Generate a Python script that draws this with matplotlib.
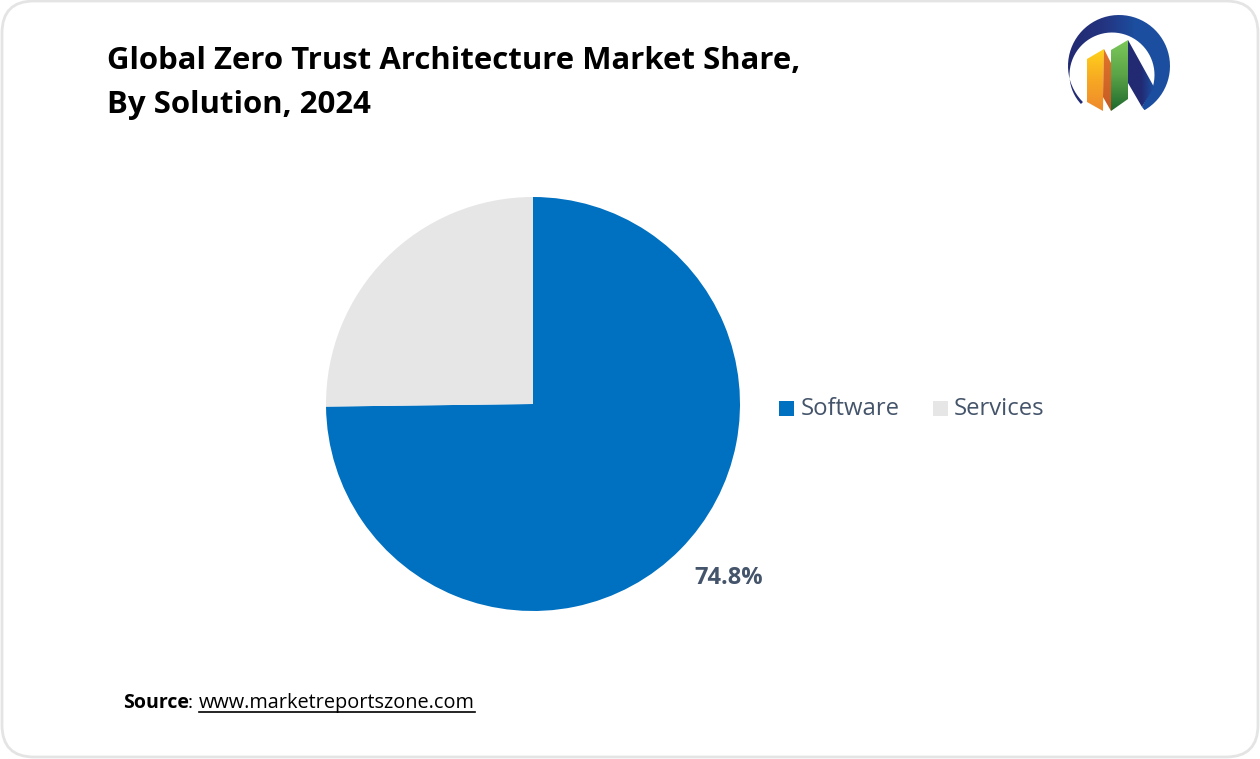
"""
Global Zero Trust Architecture market share pie, with card frame and logo.

Writes:
  out.png
"""

import matplotlib

matplotlib.use("Agg")
import matplotlib.pyplot as plt
import numpy as np
from matplotlib.colors import LinearSegmentedColormap
from matplotlib.patches import FancyBboxPatch, PathPatch, Rectangle
from matplotlib.path import Path

W, H = 1260, 759

TITLE_LINES = ["Global Zero Trust Architecture Market Share,", "By Solution, 2024"]
CATEGORIES = ["Software", "Services"]
SHARES = [74.8, 25.2]
COLORS = ["#0070C0", "#E7E6E6"]
VALUE_LABEL = "74.8%"
TEXT_BLUE = "#44546A"


def gradient_shape(ax, pts, colors, vertical=True):
    # Fill a logo shape with a gradient, clipped to the shape.
    pts = np.asarray(pts, dtype=float)
    pts = np.r_[pts, pts[:1]]
    cmap = LinearSegmentedColormap.from_list("g", colors)
    grad = np.linspace(0, 1, 64)
    grad = grad[:, None] if vertical else grad[None, :]
    x0, y0 = pts.min(axis=0)
    x1, y1 = pts.max(axis=0)
    im = ax.imshow(grad, extent=(x0, x1, y1, y0), cmap=cmap, aspect="auto", zorder=3,
                   interpolation="bilinear")
    patch = PathPatch(Path(pts), transform=ax.transData, facecolor="none", edgecolor="none")
    ax.add_patch(patch)
    im.set_clip_path(patch)


def draw_logo(ax):
    # Swoosh: outer circle minus a shifted inner circle, meeting in a tip.
    t_outer = np.radians(np.linspace(-225, 60, 120))
    outer = np.c_[1119 + 51 * np.cos(t_outer), 66 + 51 * np.sin(t_outer)]
    t_inner = np.radians(np.linspace(15, -223, 100))
    inner = np.c_[1112 + 42.5 * np.cos(t_inner), 75 + 42.5 * np.sin(t_inner)]
    gradient_shape(ax, np.r_[outer, [[1142, 107]], inner],
                   ["#222A72", "#24337F", "#1C4EA0", "#1C4EA0"], vertical=False)
    # Dark stroke running down into the ring.
    gradient_shape(ax, [(1128, 40), (1154, 87), (1142, 107), (1128, 83)],
                   ["#222A72", "#222A72", "#1C4EA0"], vertical=False)
    # Bars.
    gradient_shape(ax, [(1087, 59), (1104, 49), (1103, 111), (1087, 102)],
                   ["#FFD21A", "#F7A823", "#EE8A2D"])
    gradient_shape(ax, [(1104, 49), (1111, 63), (1111, 111), (1103, 97)],
                   ["#E0752A", "#C65A25"])
    gradient_shape(ax, [(1111, 50), (1128, 40), (1128, 99), (1111, 111)],
                   ["#7CC85A", "#5BA347", "#1E6A2E"])


def main():
    plt.rcParams["font.family"] = ["Open Sans", "DejaVu Sans"]

    fig = plt.figure(figsize=(W / 100, H / 100), dpi=100, facecolor="white")

    # Background axes in pixel coordinates, y down like the image.
    bg = fig.add_axes([0, 0, 1, 1])
    bg.set_xlim(0, W)
    bg.set_ylim(H, 0)
    bg.axis("off")

    card = FancyBboxPatch((2, 1), W - 4, H - 3, boxstyle="round,pad=0,rounding_size=32",
                          facecolor="white", edgecolor="#E4E4E4", linewidth=2)
    bg.add_patch(card)

    for line, y in zip(TITLE_LINES, [69, 113]):
        bg.text(107, y, line, fontsize=22.4, fontweight="bold", color="black", va="baseline", ha="left")

    draw_logo(bg)
    bg.set_xlim(0, W)
    bg.set_ylim(H, 0)

    # Pie, centre (533, 404), radius 207 px.
    cx, cy, r = 533, 404, 207
    pie_ax = fig.add_axes([(cx - r) / W, 1 - (cy + r) / H, 2 * r / W, 2 * r / H])
    pie_ax.pie(SHARES, colors=COLORS, startangle=90, counterclock=False, radius=1,
               wedgeprops={"linewidth": 0})
    pie_ax.set_xlim(-1, 1)
    pie_ax.set_ylim(-1, 1)

    bg.text(694, 584, VALUE_LABEL, fontsize=17, fontweight="bold", color=TEXT_BLUE, ha="left", va="baseline")

    # Legend.
    bg.add_patch(Rectangle((779, 401), 15, 15, facecolor=COLORS[0], edgecolor="none"))
    bg.text(801, 415, CATEGORIES[0], fontsize=17.2, color=TEXT_BLUE, va="baseline", ha="left")
    bg.add_patch(Rectangle((933, 401), 15, 15, facecolor=COLORS[1], edgecolor="none"))
    bg.text(954, 415, CATEGORIES[1], fontsize=17.2, color=TEXT_BLUE, va="baseline", ha="left")

    # Source line.
    bg.text(123, 708, "Source", fontsize=14, fontweight="bold", color="black", va="baseline", ha="left")
    bg.text(188, 708, ":", fontsize=14, color="black", va="baseline", ha="left")
    bg.text(199, 708, "www.marketreportszone.com", fontsize=14.3, color="black", va="baseline", ha="left")
    bg.plot([199, 475], [712, 712], color="black", linewidth=1.2)

    fig.savefig("out.png", dpi=100)
    plt.close(fig)


if __name__ == "__main__":
    main()
